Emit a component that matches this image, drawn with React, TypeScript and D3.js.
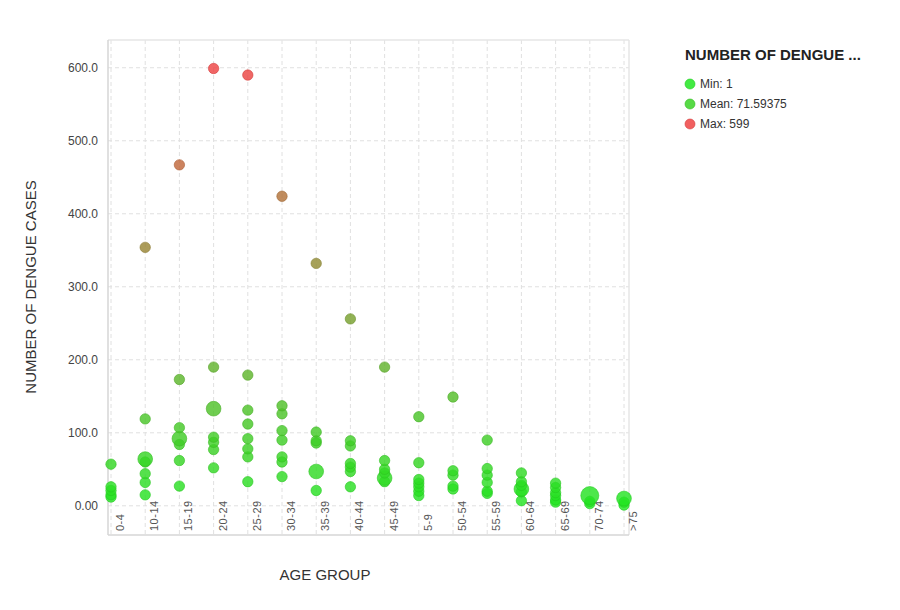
import React from "react";
import * as d3 from "d3";

const ageGroups = [
  "0-4", "10-14", "15-19", "20-24", "25-29", "30-34", "35-39", "40-44",
  "45-49", "5-9", "50-54", "55-59", "60-64", "65-69", "70-74", ">75",
];

// dengue cases per record, grouped by age group
const cases = [
  [57, 26, 21, 15, 12],
  [354, 119, 64, 60, 44, 32, 15],
  [467, 173, 107, 92, 84, 62, 27],
  [599, 190, 133, 94, 87, 77, 52],
  [590, 179, 131, 112, 92, 78, 67, 33],
  [424, 137, 126, 103, 90, 67, 60, 40],
  [332, 101, 89, 86, 47, 21],
  [256, 89, 82, 58, 53, 47, 26],
  [190, 62, 50, 45, 38, 33],
  [122, 59, 36, 31, 26, 20, 14],
  [149, 48, 42, 27, 23],
  [90, 51, 42, 32, 20, 17],
  [45, 33, 28, 23, 19, 7],
  [31, 25, 18, 14, 8, 5],
  [14, 6, 3],
  [10, 5, 1],
];

// bubble weight (number of merged records) for each point above
const weights = [
  [1, 1, 1, 1, 1],
  [1, 1, 2, 1, 1, 1, 1],
  [1, 1, 1, 2, 1, 1, 1],
  [1, 1, 2, 1, 1, 1, 1],
  [1, 1, 1, 1, 1, 1, 1, 1],
  [1, 1, 1, 1, 1, 1, 1, 1],
  [1, 1, 1, 1, 2, 1],
  [1, 1, 1, 1, 1, 1, 1],
  [1, 1, 1, 1, 2, 1],
  [1, 1, 1, 1, 1, 1, 1],
  [1, 1, 1, 1, 1],
  [1, 1, 1, 1, 1, 1],
  [1, 1, 1, 2, 1, 1],
  [1, 1, 1, 1, 1, 1],
  [3, 1, 1],
  [2, 1, 1],
];

const yTicks = [0, 100, 200, 300, 400, 500, 600];
const yTickLabels = ["0.00", "100.0", "200.0", "300.0", "400.0", "500.0", "600.0"];

const legendItems = [
  { label: "Min: 1", value: 1 },
  { label: "Mean: 71.59375", value: 71.59375 },
  { label: "Max: 599", value: 599 },
];

const font = "'Liberation Sans', Arial, sans-serif";

export default function App() {
  const width = 900,
    height = 610;
  const left = 108,
    right = 629,
    top = 40,
    bottom = 535;

  const x = d3.scalePoint<string>().domain(ageGroups).range([111, 624]);
  const y = d3.scaleLinear().domain([-40, 638]).range([bottom, top]);
  const r = d3.scaleSqrt().domain([0, 3]).range([0, 9]);
  const color = d3
    .scaleLinear<string>()
    .domain([1, 599])
    .range(["#22e622", "#ee4444"])
    .interpolate(d3.interpolateRgb);

  const points = ageGroups.flatMap((g, i) =>
    cases[i].map((v, j) => ({ group: g, value: v, w: weights[i][j] }))
  );
  // larger values on top, like the source
  points.sort((a, b) => a.value - b.value);

  return (
    <svg
      width={width}
      height={height}
      style={{ position: "absolute", left: 0, top: 0, background: "#fff" }}
      fontFamily={font}
    >
      {/* grid */}
      {yTicks.map((t) => (
        <line
          key={"h" + t}
          x1={left}
          x2={right}
          y1={y(t)}
          y2={y(t)}
          stroke="#e0e0e0"
          strokeDasharray="4,3"
        />
      ))}
      {ageGroups.map((g) => (
        <line
          key={"v" + g}
          x1={x(g)}
          x2={x(g)}
          y1={top}
          y2={bottom}
          stroke="#e0e0e0"
          strokeDasharray="4,3"
        />
      ))}
      {/* frame */}
      <line x1={left} x2={right} y1={top} y2={top} stroke="#e6e6e6" strokeWidth={1.5} />
      <line x1={right} x2={right} y1={top} y2={bottom} stroke="#e6e6e6" strokeWidth={1.5} />
      <line x1={left} x2={left} y1={top} y2={bottom} stroke="#d6d6d6" strokeWidth={1.5} />
      <line x1={left} x2={right} y1={bottom} y2={bottom} stroke="#d6d6d6" strokeWidth={1.5} />

      {/* y axis labels */}
      {yTicks.map((t, i) => (
        <text
          key={"yl" + t}
          x={98}
          y={y(t) + 4}
          textAnchor="end"
          fontSize={12}
          fill="#444"
        >
          {yTickLabels[i]}
        </text>
      ))}

      {/* x axis labels */}
      {ageGroups.map((g) => (
        <text
          key={"xl" + g}
          transform={`translate(${(x(g) as number) + 13},531) rotate(-90)`}
          textAnchor="start"
          fontSize={11}
          fill="#555"
          letterSpacing={0.5}
        >
          {g}
        </text>
      ))}

      {/* points */}
      {points.map((p, i) => (
        <circle
          key={i}
          cx={x(p.group)}
          cy={y(p.value)}
          r={r(p.w)}
          fill={color(p.value)}
          fillOpacity={0.82}
          stroke={d3.color(color(p.value))!.darker(0.3).formatHex()}
          strokeOpacity={0.6}
          strokeWidth={1}
        />
      ))}

      {/* axis titles */}
      <text
        transform="translate(36,287) rotate(-90)"
        textAnchor="middle"
        fontSize={15}
        fill="#333"
      >
        NUMBER OF DENGUE CASES
      </text>
      <text x={325} y={580} textAnchor="middle" fontSize={15} fill="#333">
        AGE GROUP
      </text>

      {/* legend */}
      <text x={685} y={60} fontSize={15} fontWeight="bold" fill="#222">
        NUMBER OF DENGUE ...
      </text>
      {legendItems.map((d, i) => (
        <g key={d.label} transform={`translate(690,${84 + i * 20})`}>
          <circle
            r={5}
            fill={color(d.value)}
            fillOpacity={0.85}
            stroke={d3.color(color(d.value))!.darker(0.3).formatHex()}
            strokeOpacity={0.6}
          />
          <text x={10} y={4} fontSize={12} fill="#333">
            {d.label}
          </text>
        </g>
      ))}
    </svg>
  );
}
